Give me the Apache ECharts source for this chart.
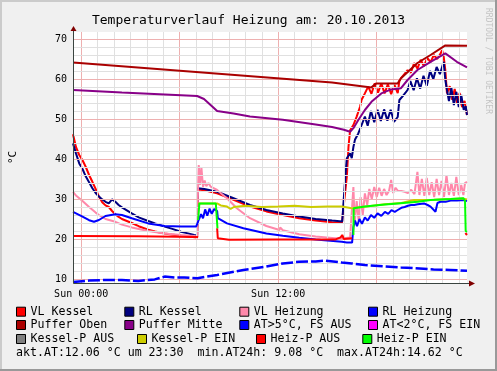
<!DOCTYPE html>
<html><head><meta charset="utf-8">
<script src="https://cdn.jsdelivr.net/npm/echarts@6/dist/echarts.min.js"></script>
<style>html,body{margin:0;padding:0;background:#f0f0f0;overflow:hidden}#c{width:497px;height:371px}</style>
</head><body><div id="c"></div><script>
// ---- data (x = hours of 20.10.2013, y = °C) ----
const titleText = 'Temperaturverlauf Heizung am: 20.10.2013';
const seriesNames = ['VL Kessel','RL Kessel','VL Heizung','RL Heizung','Puffer Oben','Puffer Mitte','AT>5°C, FS AUS','AT<2°C, FS EIN','Kessel-P AUS','Kessel-P EIN','Heiz-P AUS','Heiz-P EIN'];
const seriesColors = ['#ff0000','#000080','#ff88aa','#0000ff','#aa0000','#880088','#0000ff','#ff00ff','#808080','#cccc00','#ff0000','#00ff00'];
const xTickValues = [0, 12];
const xTickLabels = ['Sun 00:00', 'Sun 12:00'];
const yTickValues = [10, 20, 30, 40, 50, 60, 70];
const statusText = 'akt.AT:12.06 °C um 23:30  min.AT24h: 9.08 °C  max.AT24h:14.62 °C';

const vlKessel = [[-0.5,46.2],[-0.32,43],[-0.12,41],[0.08,39.7],[0.28,38],[0.48,36],[0.68,34.3],[0.88,32.5],[1.08,30.6],[1.28,29.2],[1.48,28.4],[1.68,28],[1.88,27],[2.08,26.2],[2.26,25.6],[2.48,25],[3.08,24],[3.5,23.2],[4.08,22.3],[4.5,21.9],[5.08,21.4],[5.5,21.1],[6.08,20.8],[6.5,20.6],[7.06,20.4],[7.12,32.4],[7.5,32.2],[8.28,31.4],[9.28,29.8],[10.28,28.1],[11.28,26.9],[12.28,26],[13.28,25.2],[14.28,24.6],[15.28,24.2],[15.88,24],[16.0,24.3],[16.18,35.6],[16.28,43],[16.38,47.2],[16.58,48.5],[16.78,50.6],[16.98,53],[17.08,54.8],[17.28,56.4],[17.48,58.1],[17.68,56.3],[17.88,58.9],[18.08,56.6],[18.28,58.9],[18.48,56.4],[18.68,58.7],[18.88,56.2],[19.08,58.5],[19.28,56.5],[19.38,59.5],[19.48,60.2],[19.7,61.3],[19.88,62.2],[20.08,61.6],[20.28,64],[20.48,62.6],[20.68,64.8],[20.88,63.2],[21.08,65.3],[21.28,64.2],[21.48,66],[21.68,65],[21.88,66.3],[21.98,67.2],[22.08,65.6],[22.18,62.2],[22.28,56.4],[22.45,58.2],[22.6,54.8],[22.75,57.5],[22.9,54],[23.05,56.5],[23.2,53],[23.35,54.5],[23.5,51]];
const rlKessel = [[-0.5,43.9],[-0.32,41.4],[-0.12,38.9],[0.08,37.5],[0.28,35.6],[0.48,34.2],[0.68,32.7],[0.88,31.5],[1.08,30.6],[1.28,29.9],[1.48,29.3],[1.68,28.9],[1.78,28.9],[1.88,29.9],[1.98,29.6],[2.08,29.3],[2.28,28.5],[2.48,27.9],[3.08,26.4],[3.5,25.4],[4.08,24.5],[4.5,23.9],[5.08,23.1],[5.5,22.6],[6.08,21.8],[6.5,21.4],[6.88,21],[7.06,20.9],[7.1,32.7],[7.5,32.5],[8.28,31.8],[9.28,30.2],[10.28,28.5],[11.28,27.25],[12.28,26.4],[13.28,25.6],[14.28,25],[15.28,24.6],[15.9,24.4],[16.0,24.6],[16.08,35.2],[16.18,40.2],[16.38,41.4],[16.48,40.2],[16.58,43],[16.68,44.9],[16.88,46.4],[17.08,48.5],[17.28,50.6],[17.45,48.3],[17.65,52],[17.85,49.2],[18.05,52.3],[18.25,49.5],[18.45,52.4],[18.65,49.6],[18.85,52.3],[19.05,49.3],[19.28,50.5],[19.38,54.75],[19.6,55.8],[19.88,57.25],[20.05,59.5],[20.25,57.2],[20.45,60.2],[20.65,57.6],[20.85,60.8],[21.05,58.3],[21.25,62],[21.45,60],[21.65,63],[21.85,61.2],[22.08,64.3],[22.18,59.75],[22.28,57.25],[22.4,54.5],[22.55,57.8],[22.7,53.5],[22.85,56.8],[23.0,53],[23.15,56],[23.3,52.3],[23.42,53.2],[23.5,51]];
const vlHeizung = [[-0.5,31.8],[-0.3,30.8],[0.08,29.5],[0.48,28],[0.88,26.6],[1.08,26],[1.48,25],[2.08,24.3],[2.48,23.6],[3.08,22.9],[4.08,22],[5.08,21.4],[6.08,21],[6.88,20.75],[7.06,20.6],[7.1,30],[7.16,38.5],[7.24,33.5],[7.32,38],[7.42,33],[7.52,34.6],[7.62,33.2],[7.75,34],[7.88,33.1],[8.28,32.25],[8.58,31.2],[8.88,30.2],[9.48,27.7],[10.28,25.2],[11.28,23.25],[12.08,22.25],[12.12,22.9],[12.28,22.2],[13.28,21.2],[14.28,20.6],[15.46,20.2],[16.0,20.2],[16.38,20.4],[16.5,20.6],[16.58,33],[16.66,24],[16.78,29.5],[16.9,24.5],[17.02,30.5],[17.15,26],[17.28,31.4],[17.42,28.5],[17.55,32.5],[17.7,30],[17.85,33],[18.0,30.5],[18.15,32.8],[18.3,30.8],[18.45,32.5],[18.6,31],[18.75,32],[18.88,34.75],[19.0,31.5],[19.15,32.8],[19.3,32],[19.5,32],[19.7,31.8],[19.9,31.5],[20.1,32.3],[20.3,31.2],[20.48,36.8],[20.6,31],[20.75,35],[20.9,30.8],[21.05,35.3],[21.2,31],[21.35,34.2],[21.5,30.5],[21.65,35],[21.8,31],[21.95,34.5],[22.1,30.5],[22.25,36],[22.4,31],[22.55,34],[22.7,30.8],[22.85,35.5],[23.0,31],[23.15,33.5],[23.28,31],[23.38,34],[23.5,34.3]];
const rlHeizung = [[-0.5,26.8],[0.08,25.6],[0.48,24.7],[0.78,24.3],[1.08,24.75],[1.48,25.75],[2.08,26.2],[2.48,26],[3.08,25.2],[4.08,23.9],[5.08,23.25],[6.08,23.1],[7.0,23.1],[7.08,22.8],[7.18,25],[7.3,26.2],[7.42,25.2],[7.55,27.4],[7.68,25.8],[7.82,27.6],[7.95,26.3],[8.1,27.5],[8.28,27],[8.32,25.2],[8.88,23.9],[9.88,22.7],[11.28,21.4],[12.28,20.8],[13.28,20.3],[14.28,19.9],[15.88,19.3],[16.18,19.1],[16.5,19.1],[16.58,23],[16.68,24.6],[16.8,23.2],[16.95,25],[17.1,23.8],[17.28,25.4],[17.45,24.6],[17.65,26],[17.85,25.3],[18.05,26.4],[18.28,25.8],[18.5,26.8],[18.7,26.3],[18.9,27.2],[19.1,26.8],[19.28,27.25],[19.5,27.8],[19.7,28],[19.9,28.3],[20.1,28.5],[20.28,28.5],[20.5,28.7],[20.88,28.9],[21.1,28.5],[21.28,28.1],[21.4,28.6],[21.58,26.8],[21.7,29],[21.88,29.3],[22.2,29.3],[22.5,29.6],[22.9,29.6],[23.28,29.75],[23.5,29.5]];
const pufferOben = [[-0.5,64.1],[15.28,59.1],[17.68,57.9],[17.98,58.9],[19.28,58.9],[19.48,60.2],[20.48,64],[21.28,66],[22.18,68.4],[23.5,68.3]];
const pufferMitte = [[-0.5,57.25],[2.48,56.6],[7.06,55.75],[7.48,55],[7.88,53.5],[8.28,52],[9.28,51.4],[10.28,50.6],[12.28,49.8],[14.28,48.6],[15.28,48],[16.0,47.3],[16.38,46.8],[16.58,47.7],[16.88,49.75],[17.28,52.25],[17.68,54.3],[18.28,56.4],[18.88,57.4],[19.48,57.7],[19.88,59.75],[20.48,62.25],[21.28,64.3],[22.18,66.4],[22.88,64.3],[23.5,62.9]];
const aussenTemp = [[-0.5,9.25],[0.48,9.6],[1.48,9.75],[2.48,9.75],[3.48,9.5],[4.48,9.9],[5.08,10.6],[5.68,10.4],[6.28,10.4],[7.08,10.2],[8.28,11],[9.88,12.25],[11.28,13.1],[12.28,13.9],[13.28,14.3],[14.28,14.4],[14.88,14.6],[15.88,14.1],[16.48,13.9],[17.28,13.5],[19.48,12.9],[21.46,12.4],[22.48,12.25],[23.5,12.06]];
const atKalt = [];
const kesselPAus = [];
const kesselPEin = [[7.12,28.9],[8.28,28.9],[8.5,28.4],[8.88,28.1],[9.1,27.5],[9.3,28],[10,28.3],[11,28],[12,28.1],[13,28.3],[14,28],[15,28.1],[15.88,28.1],[16.48,27.7],[16.6,27.9],[17.5,28.2],[18.5,28.7],[19.5,29],[20.28,29.75],[21.5,29.8],[22.5,30],[23.3,30.1],[23.5,29.9]];
const heizPAus = [[-0.5,20.75],[3.5,20.7],[7.06,20.5],[7.12,20.4],[7.15,'-'],[8.28,22.7],[8.32,20.2],[9,19.8],[12,19.9],[15.5,19.9],[15.8,20.4],[15.9,21],[16.0,20],[16.5,20.2],[16.56,'-'],[23.4,21.5],[23.5,21]];
const heizPEin = [[7.12,24.75],[7.2,28.9],[8.2,28.9],[8.28,28.5],[8.3,22.7],[8.33,'-'],[16.58,21],[16.6,27.7],[17.28,28.1],[18.5,28.6],[19.28,28.9],[20.5,29.3],[21.28,29.75],[22.5,30],[23.28,30.2],[23.38,29.5],[23.42,22],[23.5,21.8]];
const seriesData = [vlKessel, rlKessel, vlHeizung, rlHeizung, pufferOben, pufferMitte, aussenTemp, atKalt, kesselPAus, kesselPEin, heizPAus, heizPEin];

// ---- layout / style ----
const MONO = 'DejaVu Sans Mono';
const MAJOR = '#eeb0b0', MINOR = '#e0e0e0';
const X_MIN = -0.5, X_MAX = 23.5, Y_MIN = 9, Y_MAX = 71.75;
const legendPos = [[16,311.7],[124.3,311.7],[239.3,311.7],[368,311.7],[16,325],[124.3,325],[239.3,325],[368,325],[16,339],[137,339],[256,339],[362.3,339]];

const gridMarks = [];
for (let h = 0; h <= 23; h++) gridMarks.push({xAxis: h, lineStyle: {color: h % 6 === 0 ? MAJOR : MINOR}});
for (let v = 10; v <= 70; v += 2) gridMarks.push({yAxis: v, lineStyle: {color: v % 10 === 0 ? MAJOR : MINOR}});

const series = [{
  name: '_grid', type: 'line', data: [], z: 1, silent: true,
  markLine: {silent: true, symbol: ['none','none'], label: {show: false}, animation: false,
    lineStyle: {type: 'solid', width: 1}, data: gridMarks}
}];
seriesNames.forEach((n, i) => {
  series.push({
    name: n, type: 'line', data: seriesData[i], showSymbol: false, z: 2 + i,
    color: seriesColors[i], connectNulls: false,
    lineStyle: {width: i === 6 ? 2.5 : 2, color: seriesColors[i], type: i === 6 ? [12, 3] : 'solid'},
    itemStyle: {color: seriesColors[i]}
  });
});

const chart = echarts.init(document.getElementById('c'), null, {renderer: 'canvas'});
chart.setOption({
  animation: false,
  backgroundColor: '#f0f0f0',
  title: {text: titleText, left: 'center', top: 8, textStyle: {fontFamily: MONO, fontSize: 13, fontWeight: 'normal', color: '#000', lineHeight: 16}},
  grid: {left: 67, top: 32, width: 400, height: 251, show: true, backgroundColor: '#ffffff', borderWidth: 0},
  xAxis: {type: 'value', min: X_MIN, max: X_MAX, splitLine: {show: false}, axisLine: {show: false}, axisTick: {show: false},
    axisLabel: {customValues: xTickValues, margin: 6, fontFamily: MONO, fontSize: 10, color: '#000',
      formatter: v => xTickLabels[xTickValues.indexOf(v)] || ''}},
  yAxis: {type: 'value', min: Y_MIN, max: Y_MAX, splitLine: {show: false}, axisLine: {show: false}, axisTick: {show: false},
    name: '°C', nameLocation: 'middle', nameRotate: 90, nameGap: 54, nameTextStyle: {fontFamily: MONO, fontSize: 11, color: '#000'},
    axisLabel: {customValues: yTickValues, margin: 6, fontFamily: MONO, fontSize: 10, color: '#000'}},
  legend: seriesNames.map((n, i) => ({
    data: [n], left: legendPos[i][0], top: legendPos[i][1] - 6, padding: 0, itemGap: 0,
    itemWidth: 9, itemHeight: 9, icon: 'rect', selectedMode: false,
    itemStyle: {borderColor: '#000', borderWidth: 1},
    textStyle: {fontFamily: MONO, fontSize: 11.6, color: '#000', lineHeight: 12}
  })),
  series: series
});

// axes, arrows, frame, watermark, status line
const p0 = chart.convertToPixel({gridIndex: 0}, [X_MIN, Y_MIN]);
const p1 = chart.convertToPixel({gridIndex: 0}, [X_MAX, Y_MAX]);
const ax = Math.round(p0[0]) + 0.5, ay = Math.round(p0[1]) + 0.5;
const AXIS = '#3a4440', ARROW = '#800000';
chart.setOption({graphic: [
  {type: 'rect', shape: {x: 0, y: 0, width: 497, height: 2}, style: {fill: '#cbcbcb'}, silent: true},
  {type: 'rect', shape: {x: 0, y: 0, width: 2, height: 371}, style: {fill: '#cbcbcb'}, silent: true},
  {type: 'rect', shape: {x: 0, y: 369, width: 497, height: 2}, style: {fill: '#999999'}, silent: true},
  {type: 'rect', shape: {x: 495, y: 0, width: 2, height: 371}, style: {fill: '#999999'}, silent: true},
  {type: 'line', shape: {x1: ax, y1: ay, x2: p1[0] + 2, y2: ay}, style: {stroke: AXIS, lineWidth: 1}, z: 50, silent: true},
  {type: 'line', shape: {x1: ax, y1: ay, x2: ax, y2: p1[1] - 2}, style: {stroke: AXIS, lineWidth: 1}, z: 50, silent: true},
  {type: 'polygon', shape: {points: [[p1[0] + 2, ay - 3], [p1[0] + 2, ay + 3], [p1[0] + 8, ay]]}, style: {fill: ARROW}, z: 50, silent: true},
  {type: 'polygon', shape: {points: [[ax - 3, p1[1] - 1], [ax + 3, p1[1] - 1], [ax, p1[1] - 6]]}, style: {fill: ARROW}, z: 50, silent: true},
  {type: 'text', x: 488, y: 61, rotation: -Math.PI / 2, silent: true,
    style: {text: 'RRDTOOL / TOBI OETIKER', fontFamily: MONO, fontSize: 8, fill: '#c4c4c4', align: 'center', verticalAlign: 'middle'}},
  {type: 'text', x: 16, y: 352.7, silent: true,
    style: {text: statusText, fontFamily: MONO, fontSize: 11.6, fill: '#000', align: 'left', verticalAlign: 'middle'}}
]});
</script></body></html>
